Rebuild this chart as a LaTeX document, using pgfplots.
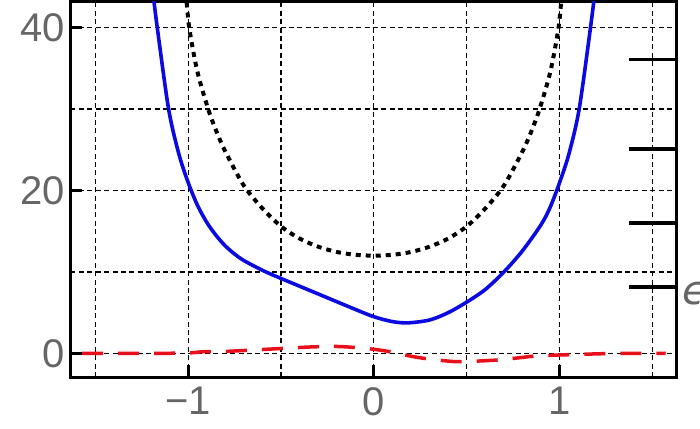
\documentclass[border=0pt]{standalone}
\usepackage{pgfplots}
\pgfplotsset{compat=1.18}
\usepackage{fontspec}
\setmainfont{Liberation Sans}
\newfontfamily\greekfont{DejaVu Sans}
\definecolor{lblgray}{RGB}{102,102,102}
\definecolor{pblue}{RGB}{10,10,225}
\definecolor{pred}{RGB}{232,16,26}
\begin{document}
\begin{tikzpicture}
\begin{axis}[
scale only axis,width=303.1pt,height=187.75pt,
xmin=-1.633,xmax=1.63,ymin=-2.9,ymax=43.2,
axis line style={line width=1.5pt},
xtick={-1,0,1},xticklabels={−1,0,1},
ytick={0,20,40},yticklabels={0,20,40},
minor xtick={-1.5,-0.5,0.5,1.5},minor ytick={10,30},
grid=both,
major grid style={black,line width=0.6pt,dash pattern=on 2.5pt off 1.7pt},
minor grid style={black,line width=0.6pt,dash pattern=on 2.5pt off 1.7pt},
tick align=inside,xtick pos=bottom,ytick pos=left,
major tick length=5.8pt,minor tick length=0pt,
major tick style={black,line width=1.5pt},
tick label style={font=\fontsize{20}{24}\selectfont,text=lblgray,inner sep=0pt},
xticklabel style={yshift=-5pt},
yticklabel style={xshift=-2.8pt},
]
% upper bound (dotted)
\addplot[black,line width=2pt,dash pattern=on 2.5pt off 2.5pt,smooth] coordinates {
(-1.012,44.3) (-0.994,40) (-0.95,34.6) (-0.892,30) (-0.85,27.4) (-0.8,24.8)
(-0.7,20.6) (-0.6,17.8) (-0.5,15.6) (-0.4,14.1) (-0.3,13.1) (-0.2,12.45)
(-0.1,12.1) (0,12.0) (0.1,12.1) (0.2,12.45) (0.3,13.1) (0.4,14.1) (0.5,15.6)
(0.6,17.8) (0.7,20.6) (0.8,24.8) (0.85,27.4) (0.892,30) (0.95,34.6)
(0.994,40) (1.012,44.3)};
% potential (solid)
\addplot[pblue,line width=1.8pt,smooth] coordinates {
(-1.19,44.4) (-1.166,40) (-1.105,30) (-1.05,24.5) (-1.0,21) (-0.95,18.2)
(-0.9,16.1) (-0.85,14.5) (-0.8,13.2) (-0.75,12.2) (-0.7,11.4) (-0.6,10.2)
(-0.5,9.2) (-0.3,7.3) (-0.1,5.4) (0,4.5) (0.1,3.9) (0.185,3.75) (0.3,4.1)
(0.4,5.0) (0.5,6.3) (0.6,7.85) (0.7,10.0) (0.8,12.6) (0.9,15.8) (0.95,18.0)
(1.0,21) (1.05,24.5) (1.105,30) (1.166,40) (1.19,44.4)};
% wave function (dashed)
\addplot[pred,line width=1.75pt,dash pattern=on 10.5pt off 7.5pt,smooth] coordinates {
(-1.571,0) (-1.2,0) (-1.0,0.05) (-0.92,0.2) (-0.79,0.25) (-0.5,0.6) (-0.327,0.8)
(-0.2,0.85) (-0.147,0.8) (0.0,0.5) (0.086,0.2) (0.212,-0.4) (0.3,-0.7)
(0.427,-1.0) (0.5,-1.0) (0.66,-0.82) (0.786,-0.53) (0.876,-0.3) (1.0,-0.2)
(1.14,-0.1) (1.32,0) (1.571,0)};
% energy levels
\addplot[black,line width=1.7pt] coordinates {(1.374,36.1) (1.64,36.1)};
\addplot[black,line width=1.7pt] coordinates {(1.374,25.1) (1.64,25.1)};
\addplot[black,line width=1.7pt] coordinates {(1.374,16.03) (1.64,16.03)};
\addplot[black,line width=1.7pt] coordinates {(1.374,8.17) (1.64,8.17)};
\coordinate (eps) at (axis cs:1.63,7.4);
\coordinate (bl) at (rel axis cs:0,0);
\coordinate (tr) at (rel axis cs:1,1);
\end{axis}
\node[anchor=west,inner sep=0pt,xshift=2.6pt,text=lblgray,font=\fontsize{20}{24}\greekfont\itshape] at (eps) {ϵ};
\pgfresetboundingbox
\path[use as bounding box] ([shift={(-35.25pt,-25.5pt)}]bl) rectangle ([shift={(11.65pt,0.75pt)}]tr);
\end{tikzpicture}
\end{document}
